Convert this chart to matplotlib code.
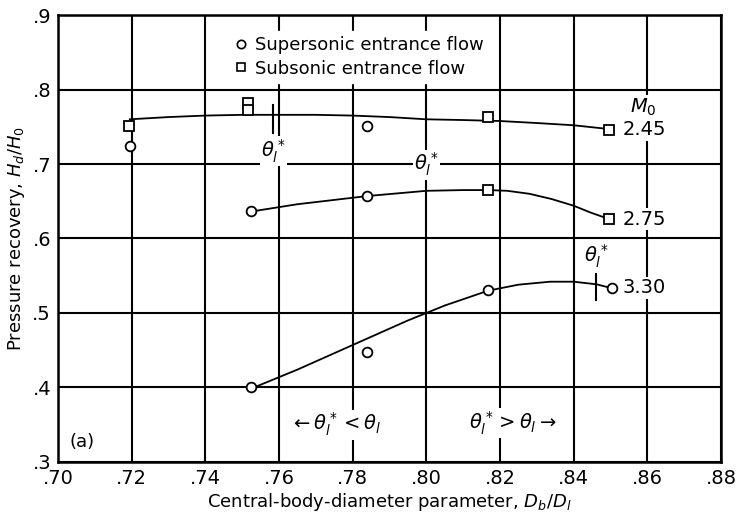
import matplotlib
matplotlib.use("Agg")
import matplotlib.pyplot as plt
from matplotlib.lines import Line2D

# measured points (D_b/D_l, H_d/H_0)
sup_x = [0.7195, 0.784, 0.7523, 0.784, 0.7523, 0.784, 0.8168, 0.8503]
sup_y = [0.724, 0.751, 0.637, 0.657, 0.400, 0.448, 0.531, 0.534]
sub_x = [0.7193, 0.7516, 0.7516, 0.8168, 0.8496, 0.8168, 0.8496]
sub_y = [0.751, 0.782, 0.772, 0.763, 0.746, 0.665, 0.626]

# faired curves
c245_x = [0.7195, 0.73, 0.74, 0.75, 0.76, 0.77, 0.78, 0.79, 0.80, 0.81, 0.82, 0.83, 0.84, 0.8485]
c245_y = [0.760, 0.763, 0.765, 0.766, 0.766, 0.766, 0.765, 0.763, 0.760, 0.759, 0.7577, 0.755, 0.752, 0.7475]
c275_x = [0.7535, 0.765, 0.784, 0.80, 0.81, 0.8168, 0.822, 0.828, 0.834, 0.84, 0.8445, 0.8485]
c275_y = [0.637, 0.646, 0.657, 0.664, 0.665, 0.665, 0.664, 0.660, 0.653, 0.644, 0.635, 0.628]
c330_x = [0.7537, 0.765, 0.775, 0.785, 0.795, 0.805, 0.8168, 0.825, 0.8336, 0.84, 0.8462, 0.849]
c330_y = [0.401, 0.424, 0.446, 0.468, 0.490, 0.510, 0.530, 0.538, 0.542, 0.542, 0.5385, 0.535]

mach_labels = ["2.45", "2.75", "3.30"]
mach_y = [0.746, 0.626, 0.534]

xticks = [0.70, 0.72, 0.74, 0.76, 0.78, 0.80, 0.82, 0.84, 0.86, 0.88]
yticks = [0.3, 0.4, 0.5, 0.6, 0.7, 0.8, 0.9]

fig = plt.figure(figsize=(7.36, 5.14), dpi=100)
ax = fig.add_axes([0.0788, 0.1012, 0.9008, 0.8696])

ax.set_xlim(0.70, 0.88)
ax.set_ylim(0.3, 0.9)
ax.set_xticks(xticks)
ax.set_yticks(yticks)
ax.set_xticklabels(["." + f"{t:.2f}".split(".")[1] for t in xticks], fontsize=14)
ax.set_yticklabels(["." + f"{t:.1f}".split(".")[1] for t in yticks], fontsize=14)
ax.tick_params(length=0, pad=5)
ax.grid(True, color="black", lw=1.5)
for s in ax.spines.values():
    s.set_linewidth(1.8)

for cx, cy in [(c245_x, c245_y), (c275_x, c275_y), (c330_x, c330_y)]:
    ax.plot(cx, cy, color="black", lw=1.3, zorder=3)

ax.plot(sup_x, sup_y, "o", ms=7, mfc="white", mec="black", mew=1.3, ls="none", zorder=4)
ax.plot(sub_x, sub_y, "s", ms=7, mfc="white", mec="black", mew=1.3, ls="none", zorder=4)

# theta* markers
ax.plot([0.7585, 0.7585], [0.742, 0.779], color="black", lw=1.5, zorder=3)
ax.plot([0.8462, 0.8462], [0.517, 0.553], color="black", lw=1.5, zorder=3)
wb = dict(facecolor="white", edgecolor="none", pad=1)
ax.text(0.7585, 0.717, r"$\theta_l^*$", fontsize=14, ha="center", va="center", bbox=wb, zorder=5)
ax.text(0.800, 0.699, r"$\theta_l^*$", fontsize=14, ha="center", va="center", bbox=wb, zorder=5)
ax.text(0.8462, 0.576, r"$\theta_l^*$", fontsize=14, ha="center", va="center", bbox=wb, zorder=5)

for lab, yy in zip(mach_labels, mach_y):
    ax.text(0.8532, yy, lab, fontsize=14, ha="left", va="center", bbox=wb, zorder=5)
ax.text(0.8588, 0.776, r"$M_0$", fontsize=14, ha="center", va="center", bbox=wb, zorder=5)

ax.text(0.7755, 0.350, r"$\leftarrow\theta_l^* < \theta_l$", fontsize=14, ha="center", va="center", bbox=wb, zorder=5)
ax.text(0.8235, 0.352, r"$\theta_l^* > \theta_l \rightarrow$", fontsize=14, ha="center", va="center", bbox=wb, zorder=5)
ax.text(0.7065, 0.327, "(a)", fontsize=13, ha="center", va="center")

handles = [
    Line2D([], [], marker="o", ls="none", ms=6, mfc="white", mec="black", mew=1.2),
    Line2D([], [], marker="s", ls="none", ms=6, mfc="white", mec="black", mew=1.2),
]
leg = ax.legend(handles, ["Supersonic entrance flow", "Subsonic entrance flow"],
                loc="upper left", bbox_to_anchor=(0.24, 0.985), fontsize=13,
                frameon=True, fancybox=False, framealpha=1, edgecolor="white",
                handletextpad=0.3, borderpad=0.3, labelspacing=0.3, handlelength=1.0)
leg.set_zorder(6)

ax.set_xlabel(r"Central-body-diameter parameter, $D_b/D_l$", fontsize=13, labelpad=2)
ax.set_ylabel(r"Pressure recovery, $H_d/H_0$", fontsize=13, labelpad=4)

fig.savefig("out.png", dpi=100)
